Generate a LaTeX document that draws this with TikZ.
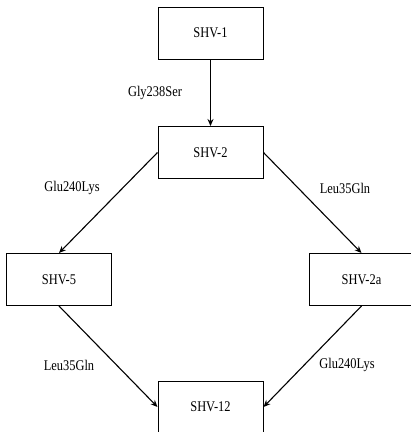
\documentclass[tikz,border=0pt]{standalone}
\usepackage{graphicx}
\usepackage{fontspec}
\setmainfont{Liberation Serif}
\usetikzlibrary{arrows.meta}
\newcommand{\cnd}[1]{\scalebox{0.84}[1]{#1}}
\begin{document}
\begin{tikzpicture}[x=1pt,y=-1pt,
  box/.style={draw, line width=1pt, minimum width=105pt, minimum height=52pt, inner sep=0pt, font=\fontsize{14.8}{16}\selectfont},
  lab/.style={font=\fontsize{14.8}{16}\selectfont},
  conn/.style={line width=1.1pt, -{Stealth[length=7pt,width=6pt]}}]
\useasboundingbox (0,0) rectangle (411,432);
\node[box] (s1) at (210.5,33) {\cnd{SHV-1}};
\node[box] (s2) at (210.5,152.5) {\cnd{SHV-2}};
\node[box] (s5) at (59,279.5) {\cnd{SHV-5}};
\node[box] (s2a) at (361.5,279.5) {\cnd{SHV-2a}};
\node[box] (s12) at (210.5,407) {\cnd{SHV-12}};
\draw[conn] (s1) -- (s2);
\draw[conn] (s2.west) -- (s5.north);
\draw[conn] (s2.east) -- (s2a.north);
\draw[conn] (s5.south) -- (s12.west);
\draw[conn] (s2a.south) -- (s12.east);
\node[lab] (l1) at (155,93) {\cnd{Gly238Ser}};
\node[lab] (l2) at (72,188) {\cnd{Glu240Lys}};
\node[lab] (l3) at (345,188) {\cnd{Leu35Gln}};
\node[lab] (l4) at (69,365) {\cnd{Leu35Gln}};
\node[lab] (l5) at (347,365) {\cnd{Glu240Lys}};
\end{tikzpicture}
\end{document}
